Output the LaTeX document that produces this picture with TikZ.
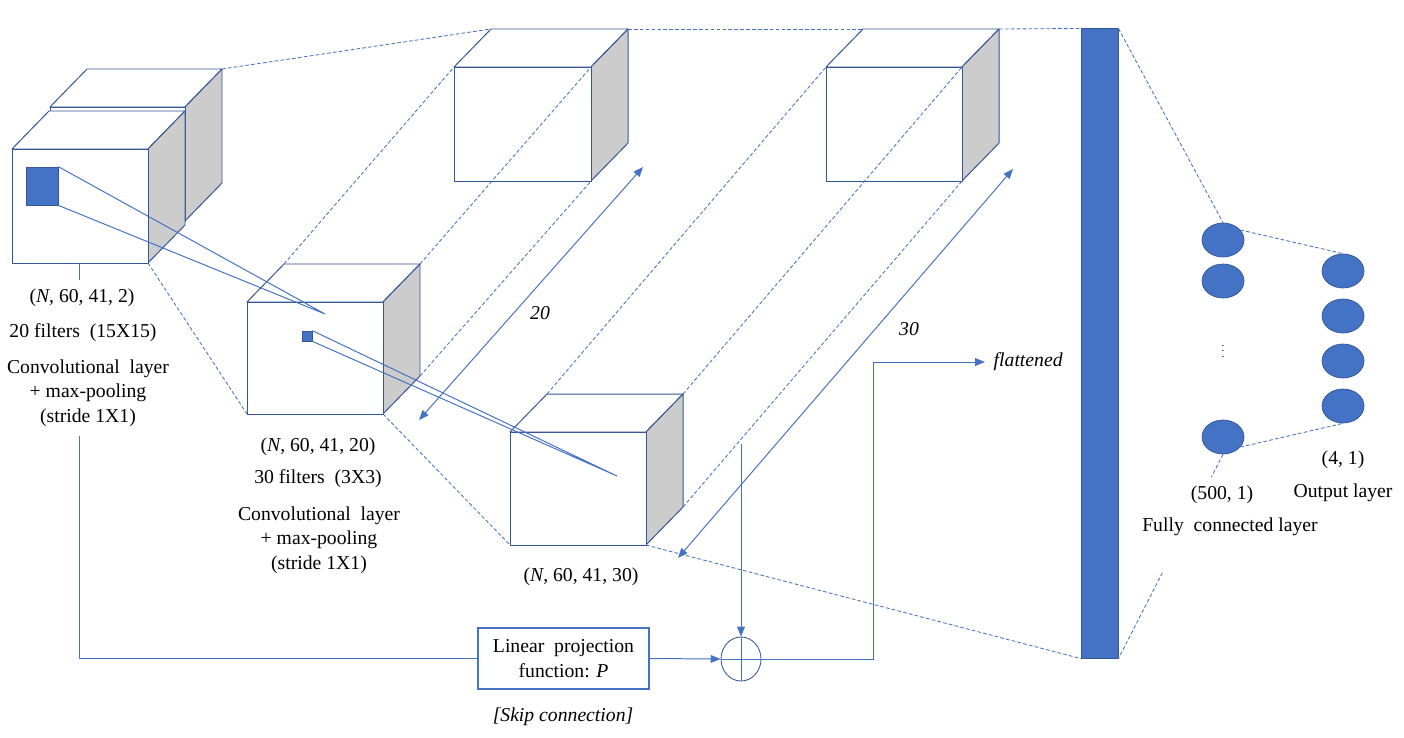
\documentclass[tikz,border=0pt]{standalone}
\usepackage{fontspec}
\setmainfont{Liberation Serif}
\usetikzlibrary{arrows.meta,shapes.geometric,calc}

\definecolor{lineblue}{RGB}{68,114,196}
\definecolor{edgeblue}{RGB}{52,86,150}
\definecolor{sidegray}{RGB}{204,204,204}

\tikzset{
	cubeedge/.style={draw=edgeblue, line width=0.7pt, line join=round},
	proj/.style={draw=lineblue, line width=0.6pt, dash pattern=on 2.6pt off 1.6pt},
	flow/.style={draw=lineblue, line width=0.7pt},
	lbl/.style={font=\fontsize{14}{17.4}\selectfont, inner sep=1pt},
	neuron/.style={ellipse, fill=lineblue, draw=edgeblue, line width=0.5pt, minimum width=1.05cm, minimum height=0.85cm, inner sep=0pt},
}

% feature map block: name, left, top, width, height
\newcommand{\nncube}[5]{%
	\coordinate (#1-ftl) at (#2,#3);
	\coordinate (#1-ftr) at (#2+#4,#3);
	\coordinate (#1-fbl) at (#2,#3+#5);
	\coordinate (#1-fbr) at (#2+#4,#3+#5);
	\coordinate (#1-btl) at (#2+37,#3-38);
	\coordinate (#1-btr) at (#2+#4+37,#3-38);
	\coordinate (#1-bbr) at (#2+#4+37,#3+#5-38);
	\filldraw[cubeedge, fill=white] (#1-ftl) -- (#1-btl) -- (#1-btr) -- (#1-ftr) -- cycle;
	\filldraw[cubeedge, fill=sidegray] (#1-ftr) -- (#1-btr) -- (#1-bbr) -- (#1-fbr) -- cycle;
	\filldraw[cubeedge, fill=white] (#1-ftl) rectangle (#1-fbr);
}

\begin{document}
\begin{tikzpicture}[x=0.025cm, y=-0.025cm, >={Triangle[length=7pt,width=5.5pt]}]
	\useasboundingbox (0,0) rectangle (1404,737);

	% cubes
	\nncube{cin}{50}{107}{135}{114}
	\nncube{cinf}{12}{149}{136}{114}
	\nncube{cone}{247}{302}{136}{112}
	\nncube{ctwo}{510}{432}{136}{113}
	\nncube{cuone}{454}{67}{137}{114}
	\nncube{cutwo}{826}{67}{136}{114}

	% flattened vector
	\node[draw=edgeblue, fill=lineblue, line width=0.6pt, minimum width=0.925cm, minimum height=15.725cm, inner sep=0pt] (bar) at (1099.5,343.5) {};

	% neurons
	\foreach \i/\y in {1/240,2/281,3/437}
		\node[neuron] (fc\i) at (1223,\y) {};
	\foreach \i/\y in {1/271,2/316,3/361,4/406}
		\node[neuron] (out\i) at (1343,\y) {};
	\node[font=\footnotesize] (fcdots) at (1223,347) {$\vdots$};

	% projection lines
	\draw[proj] (cin-btr) -- (cuone-btl);
	\draw[proj] (cuone-btr) -- (cutwo-btl);
	\draw[proj] (cutwo-btr) -- (bar.north west);
	\draw[proj] (cinf-fbr) -- (cone-fbl);
	\draw[proj] (cone-btl) -- (cuone-ftl);
	\draw[proj] (cone-btr) -- (cuone-ftr);
	\draw[proj] (cone-bbr) -- (cuone-fbr);
	\draw[proj] (cone-fbr) -- (ctwo-fbl);
	\draw[proj] (ctwo-btl) -- (cutwo-ftl);
	\draw[proj] (ctwo-btr) -- (cutwo-ftr);
	\draw[proj] (ctwo-bbr) -- (cutwo-fbr);
	\draw[proj] (ctwo-fbr) -- (bar.south west);
	\draw[proj] (bar.north east) -- (fc1.north);
	\draw[proj] (fc3.south) -- ($(fc3.south)!0.11!(bar.south east)$) ($(fc3.south)!0.58!(bar.south east)$) -- (bar.south east);
	\draw[proj] (fc1.30) -- (out1.north);
	\draw[proj] (fc3.-30) -- (out4.south);

	% filters
	\node[draw=edgeblue, fill=lineblue, line width=0.5pt, minimum width=0.8cm, minimum height=0.95cm, inner sep=0pt] (filtone) at (42,186) {};
	\node[draw=edgeblue, fill=lineblue, line width=0.5pt, minimum width=0.25cm, minimum height=0.25cm, inner sep=0pt] (filttwo) at (307,336) {};
	\coordinate (hitone) at (325,314);
	\coordinate (hittwo) at (617,476);
	\draw[flow] (filtone.north east) -- (hitone) -- (filtone.south east);
	\draw[flow] (filttwo.north east) -- (hittwo) -- (filttwo.south east);

	% depth arrows
	\coordinate (dtwenA) at (419,420);
	\coordinate (dtwenB) at (643,167);
	\coordinate (dthirA) at (678,558);
	\coordinate (dthirB) at (1013,169);
	\draw[flow, <->] (dtwenA) -- (dtwenB);
	\draw[flow, <->] (dthirA) -- (dthirB);
	\node[lbl] (ltwen) at (540,313) {\itshape 20};
	\node[lbl] (lthir) at (909,329) {\itshape 30};

	% labels
	\node[lbl] (shapein) at (82,298) {(\textit{N}, 60, 41, 2)};
	\node[lbl] (filtin) at (83,333) {20 filters\ \ (15X15)};
	\node[lbl, align=center] (convone) at (88,393) {Convolutional\ \ layer\\+ max-pooling\\(stride 1X1)};
	\node[lbl] (shapeone) at (318,447) {(\textit{N}, 60, 41, 20)};
	\node[lbl] (filtone2) at (318,479) {30 filters\ \ (3X3)};
	\node[lbl, align=center] (convtwo) at (319,540) {Convolutional\ \ layer\\+ max-pooling\\(stride 1X1)};
	\node[lbl] (shapetwo) at (581,577) {(\textit{N}, 60, 41, 30)};
	\node[lbl] (fcsize) at (1222,495) {(500, 1)};
	\node[lbl] (fcname) at (1230,527) {Fully\ \ connected layer};
	\node[lbl] (outsize) at (1343,460) {(4, 1)};
	\node[lbl] (outname) at (1343,493) {Output layer};

	% skip connection
	\node[lbl, draw=lineblue, line width=1.4pt, align=center, minimum width=4.275cm, minimum height=1.525cm] (linproj) at (563.5,658.5) {Linear\ \ projection\\function: \textit{P}};
	\node[lbl] (skip) at (563,717) {\itshape [Skip connection]};
	\node[ellipse, draw=edgeblue, line width=0.6pt, minimum width=1cm, minimum height=1.1cm, inner sep=0pt] (sum) at (741,659) {};
	\coordinate (skiptop) at (79,436);
	\coordinate (sumin) at (741,444);
	\coordinate (bend) at (873,362);
	\draw[flow] (skiptop |- cinf-fbl) -- ++(0,17);
	\draw[flow] (skiptop) |- (linproj.west);
	\draw[flow, ->] (linproj.east) -- (sum.west);
	\draw[flow, ->] (sumin) -- (sum.north);
	\draw[flow] (sum.north) -- (sum.south);
	\draw[flow] (sum.west) -- (sum.east);
	\node[lbl, anchor=west, inner sep=6pt] (flat) at (985,362) {\itshape flattened};
	\draw[flow, ->] (sum.east) -| (bend) -- (flat.west);
\end{tikzpicture}
\end{document}
